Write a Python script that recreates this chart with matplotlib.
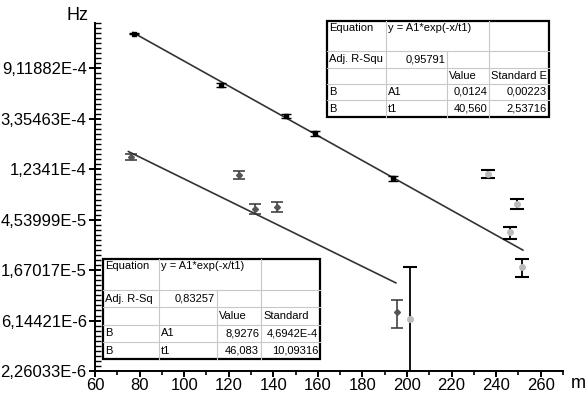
import numpy as np
import matplotlib
matplotlib.use('Agg')
import matplotlib.pyplot as plt
from matplotlib.lines import Line2D
from matplotlib.ticker import FixedLocator, FixedFormatter

plt.rcParams['font.family'] = ['Liberation Sans', 'DejaVu Sans']

# upper series (black markers)
x_up = [77.6, 116.7, 145.5, 158.6, 193.7]
y_up = [1.82e-3, 6.51e-4, 3.53e-4, 2.51e-4, 1.03e-4]
e_up = [3.0e-5, 2.6e-5, 1.4e-5, 1.0e-5, 6.0e-6]

# light grey series
x_lg = [236.4, 249.5, 246.3, 251.7, 201.3]
y_lg = [1.12e-4, 6.2e-5, 3.54e-5, 1.78e-5, 6.35e-6]
e_lg = [9.0e-6, 6.0e-6, 4.2e-6, 3.2e-6, 1.15e-5]

# lower series (dark grey markers)
x_lo = [76.2, 124.4, 131.6, 141.5, 195.5]
y_lo = [1.57e-4, 1.10e-4, 5.6e-5, 5.85e-5, 7.3e-6]
e_lo = [9.4e-6, 8.8e-6, 5.6e-6, 5.9e-6, 2.0e-6]

# fit parameters y = A1*exp(-x/t1)
fit_up = dict(A1=0.0124, t1=40.560, x0=77, x1=252)
fit_lo = dict(A1=8.9276e-4, t1=46.083, x0=75, x1=195)

ytick_ln = [-7, -8, -9, -10, -11, -12, -13]
ytick_labels = ['9,11882E-4', '3,35463E-4', '1,2341E-4', '4,53999E-5',
                '1,67017E-5', '6,14421E-6', '2,26033E-6']

table_up = [['Equation', 'y = A1*exp(-x/t1)', '', ''],
            ['Adj. R-Squ', '0,95791', '', ''],
            ['', '', 'Value', 'Standard E'],
            ['B', 'A1', '0,0124', '0,00223'],
            ['B', 't1', '40,560', '2,53716']]
table_lo = [['Equation', 'y = A1*exp(-x/t1)', '', ''],
            ['Adj. R-Sq', '0,83257', '', ''],
            ['', '', 'Value', 'Standard'],
            ['B', 'A1', '8,9276', '4,6942E-4'],
            ['B', 't1', '46,083', '10,09316']]

W, H = 588, 396
fig = plt.figure(figsize=(W / 100, H / 100), dpi=100)
ax = fig.add_axes([95 / W, 1 - 371 / H, (563 - 95) / W, (371 - 23) / H])
ax.set_yscale('log', base=np.e)

# fit lines
for f in (fit_up, fit_lo):
    xs = np.linspace(f['x0'], f['x1'], 100)
    ax.plot(xs, f['A1'] * np.exp(-xs / f['t1']), color='#333333', lw=1.2, zorder=2)

ax.errorbar(x_up, y_up, yerr=e_up, fmt='s', ms=2.5, color='black', ecolor='black',
            elinewidth=1.0, capsize=3.5, capthick=1.0, zorder=3)
ax.errorbar(x_lo, y_lo, yerr=e_lo, fmt='D', ms=3, color='#555555', ecolor='#333333',
            elinewidth=1.1, capsize=4, capthick=1.1, zorder=3)
ax.errorbar(x_lg, y_lg, yerr=e_lg, fmt='o', ms=4, color='#bbbbbb', ecolor='black',
            elinewidth=1.3, capsize=5, capthick=1.5, zorder=3)

ax.set_xlim(60, 270)
ax.set_ylim(np.exp(-13), np.exp(-6.1))
ax.set_xticks(np.arange(60, 261, 20))
ax.set_xticks(np.arange(70, 271, 20), minor=True)
ax.yaxis.set_major_locator(FixedLocator(np.exp(ytick_ln)))
ax.yaxis.set_major_formatter(FixedFormatter(ytick_labels))
minor_ln = [v for v in np.arange(-13, -6.05, 0.1) if abs(v - round(v)) > 0.01]
ax.yaxis.set_minor_locator(FixedLocator(np.exp(minor_ln)))
ax.yaxis.set_minor_formatter(FixedFormatter([''] * len(minor_ln)))

for s in ('top', 'right'):
    ax.spines[s].set_visible(False)
for s in ('left', 'bottom'):
    ax.spines[s].set_linewidth(1.4)
ax.tick_params(axis='x', which='major', direction='out', length=4, width=1.4, labelsize=12, pad=1)
ax.tick_params(axis='x', which='minor', direction='out', length=3, width=1.2)
ax.tick_params(axis='y', which='major', direction='inout', length=8, width=1.4, labelsize=12, pad=2)
ax.tick_params(axis='y', which='minor', direction='in', length=4, width=1.0)

fig.text(77 / W, 1 - 16 / H, 'Hz', fontsize=13, ha='center', va='center')
fig.text(578 / W, 1 - 384 / H, 'm', fontsize=13, ha='center', va='center')


def draw_table(cols, rows, cells):
    # cols / rows are pixel edges in figure
    def fx(p):
        return p / W

    def fy(p):
        return 1 - p / H
    grid = '#c8c8c8'
    for r in rows[1:-1]:
        fig.add_artist(Line2D([fx(cols[0]), fx(cols[-1])], [fy(r), fy(r)], color=grid, lw=0.8))
    for i, c in enumerate(cols[1:-1], start=1):
        top = rows[1] if i == 2 else rows[0]
        fig.add_artist(Line2D([fx(c), fx(c)], [fy(top), fy(rows[-1])], color=grid, lw=0.8))
    fig.add_artist(plt.Rectangle((fx(cols[0]), fy(rows[-1])), fx(cols[-1]) - fx(cols[0]),
                                 fy(rows[0]) - fy(rows[-1]), fill=False, ec='black', lw=1.6,
                                 transform=fig.transFigure))
    for ri, row in enumerate(cells):
        for ci, txt in enumerate(row):
            if not txt:
                continue
            yc = rows[ri] + 7 if ri == 0 else (rows[ri] + rows[ri + 1]) / 2
            numeric = txt[0].isdigit() and ci >= 1 and ri >= 1
            if numeric:
                fig.text(fx(cols[ci + 1] - 2), fy(yc), txt, fontsize=8, ha='right', va='center')
            else:
                fig.text(fx(cols[ci] + 2), fy(yc), txt, fontsize=8, ha='left', va='center')


draw_table([327, 386, 447, 489, 549], [21, 51, 68, 84, 100, 117], table_up)
draw_table([103, 159, 217, 261, 320], [259, 290, 307, 325, 342, 359], table_lo)

fig.savefig('out.png', dpi=100)
